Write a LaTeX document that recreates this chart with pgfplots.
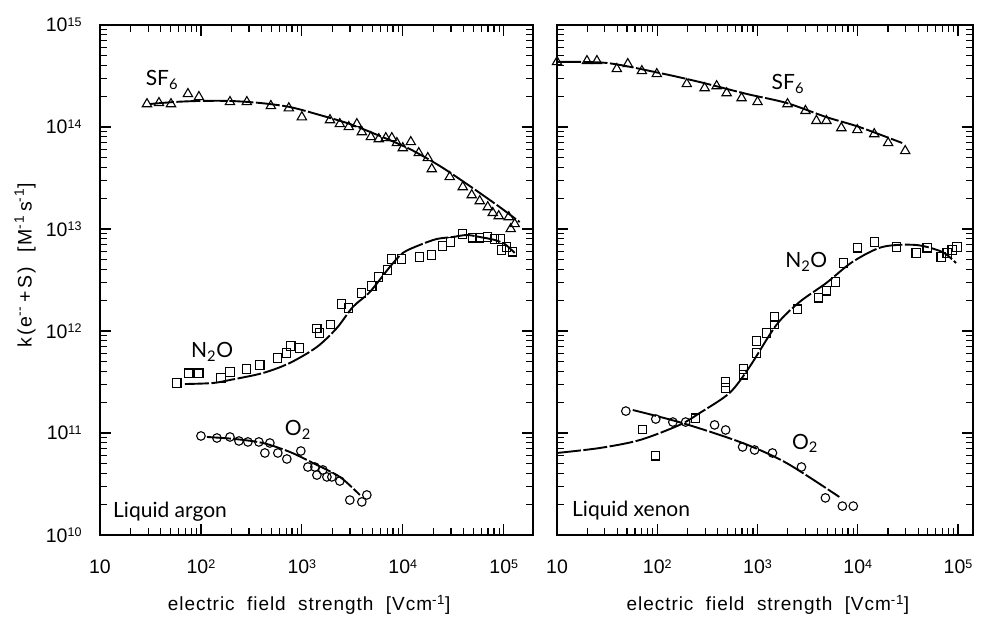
\documentclass[border=0pt]{standalone}
\usepackage{pgfplots}
\pgfplotsset{compat=1.18}
\usepackage{fontspec}
\setmainfont{Liberation Sans}
\newfontfamily\gill{Lato}
\newfontfamily\spaced[LetterSpace=5]{Liberation Sans}
\newfontfamily\spacedy[LetterSpace=9]{Liberation Sans}
\newcommand\pw[1]{10\raisebox{5.5pt}{\fontsize{12.5}{12}\selectfont #1}}
\tikzset{
 myfit/.style={black, line width=1.9pt, dash pattern=on 24pt off 2.5pt, smooth, tension=0.5, mark=none},
 mytri/.style={only marks, mark=triangle, mark size=5.4pt, mark options={line width=1.1pt, black, fill=white, solid}},
 mysq/.style={only marks, mark=square, mark size=4.1pt, mark options={line width=1.1pt, black, fill=white, solid}},
 myci/.style={only marks, mark=o, mark size=4.3pt, mark options={line width=1.1pt, black, fill=white, solid}},
 mylab/.style={font=\gill\fontsize{21}{24}\selectfont},
}
\begin{document}
\begin{tikzpicture}
\path[use as bounding box] (0,0) rectangle (987pt,625pt);
% ---------------- Liquid argon ----------------
\begin{axis}[xmode=log, ymode=log, scale only axis, height=510pt,
  ymin=1e10, ymax=1e15, xmin=10,
  axis line style={line width=1.6pt},
  tick align=inside,
  major tick length=11pt, minor tick length=7pt,
  tick style={line width=1.2pt, black},
  xticklabel pos=lower, yticklabel pos=left,
  xtick={10,100,1000,10000,100000},
  xticklabels={10,\pw{2},\pw{3},\pw{4},\pw{5}},
  minor xtick={20,30,40,50,60,70,80,90,200,300,400,500,600,700,800,900,2000,3000,4000,5000,6000,7000,8000,9000,20000,30000,40000,50000,60000,70000,80000,90000},
  ytick={1e10,1e11,1e12,1e13,1e14,1e15},
  minor ytick={2e10,3e10,4e10,5e10,6e10,7e10,8e10,9e10,2e11,3e11,4e11,5e11,6e11,7e11,8e11,9e11,2e12,3e12,4e12,5e12,6e12,7e12,8e12,9e12,2e13,3e13,4e13,5e13,6e13,7e13,8e13,9e13,2e14,3e14,4e14,5e14,6e14,7e14,8e14,9e14},
  tick label style={font=\fontsize{19.5}{22}\selectfont},
  xticklabel style={yshift=-21pt},
  yticklabel style={xshift=-15pt},
  clip=false,
  at={(100pt,90pt)}, anchor=south west, width=433pt, xmax=1.95e5,
  yticklabels={\pw{10},\pw{11},\pw{12},\pw{13},\pw{14},\pw{15}}]
\addplot[myfit] coordinates {(31.3,1.68e14)(55.3,1.76e14)(97.8,1.80e14)(194,1.80e14)(384,1.72e14)(760,1.57e14)(1507,1.31e14)(2986,1.07e14)(5916,8.17e13)(11730,6.08e13)(23240,4.15e13)(46050,2.64e13)(91290,1.64e13)(143900,1.17e13)};
\addplot[mytri] coordinates {(29.2,1.68e14)(38.4,1.72e14)(50.5,1.68e14)(74.3,2.11e14)(95.5,1.97e14)(194,1.76e14)(285,1.76e14)(493,1.61e14)(743,1.53e14)(1000,1.25e14)(1900,1.17e14)(2377,1.07e14)(2917,1.0e14)(3506,1.07e14)(3929,8.93e13)(4823,7.98e13)(5785,7.62e13)(6787,7.80e13)(7786,7.80e13)(8736,6.97e13)(10000,6.22e13)(12000,7.13e13)(14390,5.56e13)(17690,4.97e13)(19370,3.87e13)(29170,3.24e13)(39270,2.58e13)(48190,2.15e13)(57840,1.88e13)(69450,1.64e13)(77830,1.44e13)(89200,1.34e13)(112200,1.31e13)(128500,1.12e13)(117300,1.0e13)};
\addplot[myfit] coordinates {(69.5,3.02e11)(131.6,3.09e11)(194,3.31e11)(411,3.87e11)(760,4.86e11)(1409,6.97e11)(2222,1.07e12)(3199,1.72e12)(4712,2.41e12)(7431,4.24e12)(10000,5.82e12)(14720,6.97e12)(21710,7.98e12)(31270,8.35e12)(43030,8.73e12)(57840,8.35e12)(81470,7.80e12)(102300,7.13e12)(128500,5.82e12)};
\addplot[mysq] coordinates {(57.8,3.09e11)(76.0,3.87e11)(95.5,3.87e11)(158,3.46e11)(194,3.96e11)(285,4.24e11)(384,4.64e11)(578,5.44e11)(710,6.08e11)(778,7.13e11)(955,6.81e11)(1409,1.05e12)(1507,9.55e11)(1936,1.15e12)(2489,1.84e12)(2917,1.68e12)(3929,2.36e12)(4936,2.76e12)(5785,3.38e12)(7102,3.96e12)(7786,5.08e12)(9773,5.08e12)(14720,5.31e12)(19370,5.56e12)(24890,6.81e12)(29870,7.46e12)(39270,8.93e12)(49360,8.17e12)(57840,8.17e12)(69450,8.35e12)(81470,7.98e12)(93400,7.98e12)(95500,6.22e12)(107100,6.66e12)(122700,5.96e12)};
\addplot[myfit] coordinates {(114.6,9.14e10)(217,8.73e10)(411,7.98e10)(760,6.52e10)(1285,5.08e10)(2377,3.71e10)(3752,2.47e10)};
\addplot[myci] coordinates {(100,9.35e10)(144,8.93e10)(194,9.14e10)(238,8.35e10)(292,8.17e10)(375,8.17e10)(430,6.37e10)(482,7.98e10)(578,6.37e10)(710,5.56e10)(977,6.66e10)(1146,4.64e10)(1346,4.64e10)(1409,3.87e10)(1615,4.34e10)(1770,3.71e10)(1981,3.71e10)(2377,3.38e10)(2986,2.20e10)(3929,2.11e10)(4403,2.47e10)};
\node[mylab] at (rel axis cs:0.143,0.892) {SF\textsubscript{6}};
\node[mylab] at (rel axis cs:0.259,0.359) {N\textsubscript{2}O};
\node[mylab] at (rel axis cs:0.457,0.206) {O\textsubscript{2}};
\node[mylab, anchor=west, inner sep=0pt] at (rel axis cs:0.030,0.045) {Liquid argon};
\node[rotate=90, font=\spacedy\fontsize{19.5}{22}\selectfont] at (rel axis cs:-0.173,0.529) {k(e\textsuperscript{--}\,+\,S)\ \ [M\textsuperscript{-1}\,s\textsuperscript{-1}]};
\node[font=\spaced\fontsize{19}{22}\selectfont] at (rel axis cs:0.483,-0.137) {electric\ \ field\ \ strength\ \ [Vcm\textsuperscript{-1}]};
\end{axis}
% ---------------- Liquid xenon ----------------
\begin{axis}[xmode=log, ymode=log, scale only axis, height=510pt,
  ymin=1e10, ymax=1e15, xmin=10,
  axis line style={line width=1.6pt},
  tick align=inside,
  major tick length=11pt, minor tick length=7pt,
  tick style={line width=1.2pt, black},
  xticklabel pos=lower, yticklabel pos=left,
  xtick={10,100,1000,10000,100000},
  xticklabels={10,\pw{2},\pw{3},\pw{4},\pw{5}},
  minor xtick={20,30,40,50,60,70,80,90,200,300,400,500,600,700,800,900,2000,3000,4000,5000,6000,7000,8000,9000,20000,30000,40000,50000,60000,70000,80000,90000},
  ytick={1e10,1e11,1e12,1e13,1e14,1e15},
  minor ytick={2e10,3e10,4e10,5e10,6e10,7e10,8e10,9e10,2e11,3e11,4e11,5e11,6e11,7e11,8e11,9e11,2e12,3e12,4e12,5e12,6e12,7e12,8e12,9e12,2e13,3e13,4e13,5e13,6e13,7e13,8e13,9e13,2e14,3e14,4e14,5e14,6e14,7e14,8e14,9e14},
  tick label style={font=\fontsize{19.5}{22}\selectfont},
  xticklabel style={yshift=-21pt},
  clip=false,
  at={(557pt,90pt)}, anchor=south west, width=416pt, xmax=1.41e5,
  yticklabels={}]
\addplot[myfit] coordinates {(10,4.34e14)(31.5,4.24e14)(106,3.38e14)(265,2.76e14)(778,2.11e14)(1945,1.72e14)(4864,1.25e14)(10350,1.0e14)(27730,6.97e13)};
\addplot[mytri] coordinates {(10,4.34e14)(19.9,4.44e14)(25.0,4.44e14)(39.5,3.71e14)(50.8,4.15e14)(70.2,3.54e14)(98.9,3.31e14)(197,2.64e14)(297,2.41e14)(391,2.52e14)(492,2.15e14)(693,1.92e14)(1000,1.76e14)(1991,1.68e14)(3006,1.44e14)(3866,1.15e14)(4864,1.15e14)(6851,9.77e13)(9886,9.35e13)(14590,8.53e13)(20090,6.97e13)(29720,5.82e13)};
\addplot[myfit] coordinates {(10,6.37e10)(26.8,7.13e10)(67.0,8.53e10)(167,1.20e11)(265,1.57e11)(526,2.47e11)(832,4.44e11)(1545,1.15e12)(2618,1.92e12)(4864,2.96e12)(8810,4.74e12)(17540,6.66e12)(38190,6.97e12)(69300,5.96e12)(95500,4.64e12)};
\addplot[mysq] coordinates {(71.8,1.09e11)(96.6,5.96e10)(242,1.40e11)(481,3.16e11)(481,2.76e11)(726,4.24e11)(726,3.71e11)(977,7.98e11)(977,6.08e11)(1230,9.55e11)(1477,1.37e12)(1477,1.15e12)(2501,1.64e12)(4049,2.11e12)(4864,2.47e12)(5973,3.02e12)(7174,4.64e12)(9886,6.52e12)(14590,7.46e12)(24150,6.66e12)(38190,5.82e12)(49170,6.52e12)(67740,5.31e12)(77800,5.82e12)(87170,6.22e12)(97700,6.66e12)};
\addplot[myfit] coordinates {(57.0,1.68e11)(179,1.25e11)(710,7.98e10)(1945,5.08e10)(6546,2.36e10)};
\addplot[myci] coordinates {(48.6,1.64e11)(96.6,1.37e11)(143,1.28e11)(192,1.28e11)(373,1.20e11)(481,1.07e11)(710,7.30e10)(934,6.81e10)(1409,6.37e10)(2742,4.64e10)(4753,2.31e10)(7015,1.92e10)(9016,1.92e10)};
\node[mylab] at (rel axis cs:0.555,0.884) {SF\textsubscript{6}};
\node[mylab] at (rel axis cs:0.599,0.535) {N\textsubscript{2}O};
\node[mylab] at (rel axis cs:0.596,0.180) {O\textsubscript{2}};
\node[mylab, anchor=west, inner sep=0pt] at (rel axis cs:0.036,0.047) {Liquid xenon};
\node[font=\spaced\fontsize{19}{22}\selectfont] at (rel axis cs:0.507,-0.137) {electric\ \ field\ \ strength\ \ [Vcm\textsuperscript{-1}]};
\end{axis}
\end{tikzpicture}
\end{document}
